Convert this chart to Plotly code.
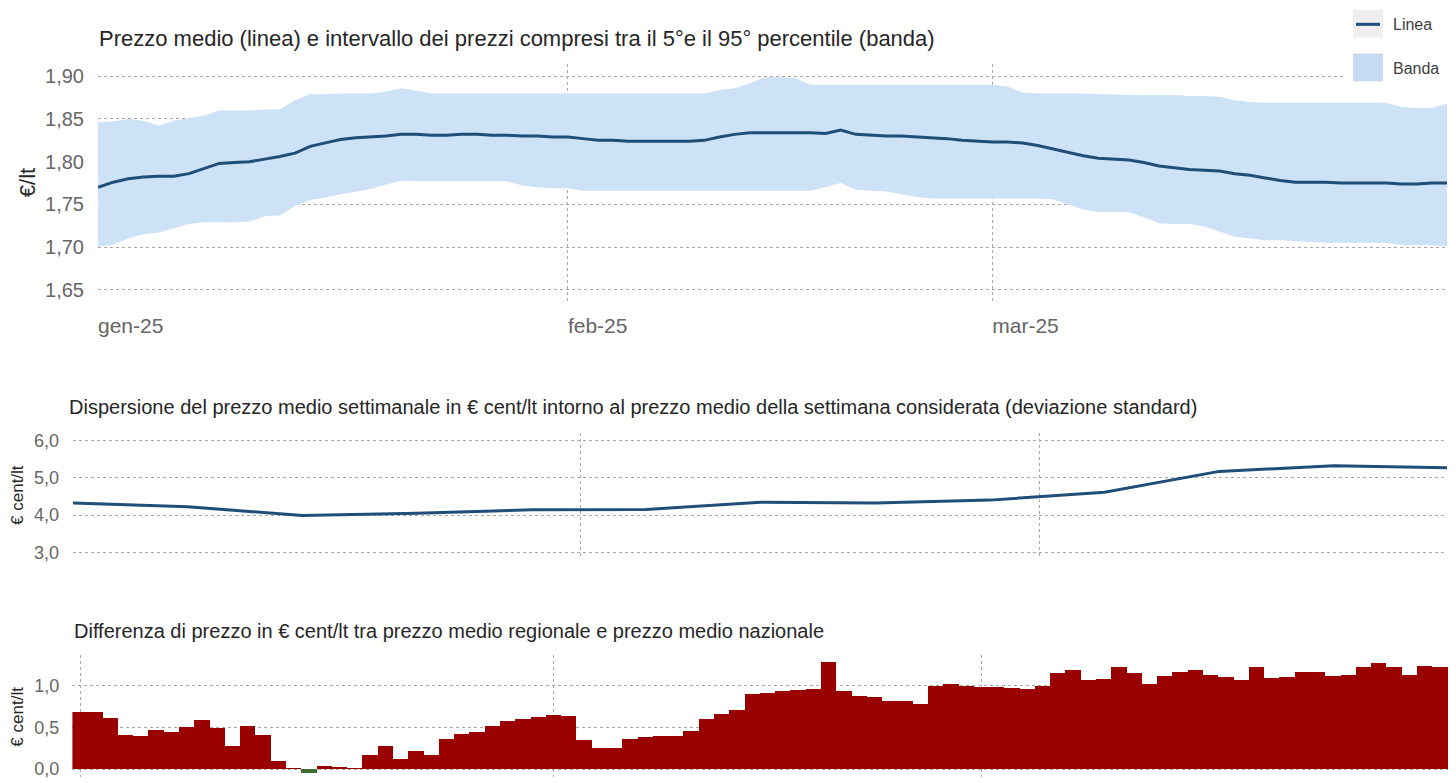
import pandas as pd
import plotly.graph_objects as go

W, H = 1456, 783
OFF = 8  # default page margin of the html body

# ---------------- data ----------------
days = pd.date_range("2025-01-01", "2025-03-31", freq="D")

mean_price = [1.770, 1.776, 1.780, 1.782, 1.783, 1.783, 1.786, 1.792, 1.798, 1.799,
              1.800, 1.803, 1.806, 1.810, 1.818, 1.822, 1.826, 1.828, 1.829, 1.830,
              1.832, 1.832, 1.831, 1.831, 1.832, 1.832, 1.831, 1.831, 1.830, 1.830,
              1.829, 1.829, 1.827, 1.825, 1.825, 1.824, 1.824, 1.824, 1.824, 1.824,
              1.825, 1.829, 1.832, 1.834, 1.834, 1.834, 1.834, 1.834, 1.833, 1.837,
              1.832, 1.831, 1.830, 1.830, 1.829, 1.828, 1.827, 1.825, 1.824, 1.823,
              1.823, 1.822, 1.819, 1.815, 1.811, 1.807, 1.804, 1.803, 1.802, 1.799,
              1.795, 1.793, 1.791, 1.790, 1.789, 1.786, 1.784, 1.781, 1.778, 1.776,
              1.776, 1.776, 1.775, 1.775, 1.775, 1.775, 1.774, 1.774, 1.775, 1.775]

p95 = [1.846, 1.847, 1.850, 1.848, 1.842, 1.848, 1.851, 1.854, 1.860, 1.860,
       1.860, 1.861, 1.861, 1.872, 1.879, 1.879, 1.880, 1.880, 1.880, 1.882,
       1.886, 1.883, 1.880, 1.880, 1.880, 1.880, 1.880, 1.880, 1.880, 1.880,
       1.880, 1.880, 1.880, 1.880, 1.880, 1.880, 1.880, 1.880, 1.880, 1.880,
       1.880, 1.884, 1.886, 1.892, 1.899, 1.899, 1.898, 1.890, 1.890, 1.890,
       1.890, 1.890, 1.890, 1.890, 1.890, 1.890, 1.890, 1.890, 1.890, 1.890,
       1.888, 1.881, 1.880, 1.880, 1.880, 1.880, 1.879, 1.879, 1.878, 1.878,
       1.878, 1.878, 1.877, 1.877, 1.876, 1.872, 1.870, 1.869, 1.869, 1.869,
       1.869, 1.869, 1.869, 1.869, 1.869, 1.869, 1.864, 1.863, 1.863, 1.868]

p5 = [1.700, 1.703, 1.710, 1.715, 1.717, 1.722, 1.727, 1.729, 1.729, 1.729,
      1.730, 1.736, 1.737, 1.748, 1.755, 1.758, 1.762, 1.765, 1.768, 1.773,
      1.778, 1.777, 1.777, 1.777, 1.777, 1.777, 1.777, 1.777, 1.772, 1.770,
      1.769, 1.769, 1.766, 1.766, 1.766, 1.766, 1.766, 1.766, 1.766, 1.766,
      1.766, 1.766, 1.766, 1.766, 1.766, 1.766, 1.766, 1.766, 1.770, 1.775,
      1.767, 1.766, 1.765, 1.762, 1.759, 1.757, 1.757, 1.757, 1.757, 1.757,
      1.757, 1.757, 1.757, 1.756, 1.750, 1.744, 1.741, 1.741, 1.741, 1.735,
      1.728, 1.727, 1.727, 1.724, 1.718, 1.712, 1.710, 1.708, 1.708, 1.707,
      1.706, 1.705, 1.705, 1.705, 1.705, 1.705, 1.702, 1.702, 1.702, 1.701]

weeks = pd.date_range("2025-01-01", periods=13, freq="7D")
std_dev = [4.32, 4.22, 3.99, 4.05, 4.14, 4.15, 4.34, 4.32, 4.40, 4.61, 5.17, 5.32, 5.27]

diff_reg_naz = [0.68, 0.68, 0.61, 0.41, 0.39, 0.47, 0.44, 0.50, 0.59, 0.49,
                0.28, 0.52, 0.41, 0.09, 0.005, -0.05, 0.04, 0.012, 0.004, 0.165,
                0.28, 0.12, 0.22, 0.165, 0.36, 0.42, 0.44, 0.51, 0.57, 0.60,
                0.62, 0.645, 0.63, 0.35, 0.245, 0.256, 0.355, 0.38, 0.39, 0.40,
                0.45, 0.60, 0.66, 0.705, 0.90, 0.917, 0.937, 0.95, 0.96, 1.287,
                0.94, 0.874, 0.862, 0.82, 0.81, 0.776, 1.00, 1.024, 1.00, 0.98,
                0.98, 0.97, 0.957, 0.996, 1.15, 1.185, 1.07, 1.08, 1.23, 1.15,
                1.02, 1.12, 1.17, 1.19, 1.13, 1.11, 1.07, 1.22, 1.09, 1.10,
                1.16, 1.16, 1.12, 1.13, 1.22, 1.275, 1.22, 1.13, 1.236, 1.23]

month_ticks = ["2025-01-01", "2025-02-01", "2025-03-01"]
month_labels = ["gen-25", "feb-25", "mar-25"]

title_top = "Prezzo medio (linea) e intervallo dei prezzi compresi tra il 5°e il 95° percentile (banda)"
title_mid = ("Dispersione del prezzo medio settimanale in € cent/lt intorno al prezzo medio "
             "della settimana considerata (deviazione standard)")
title_bot = "Differenza di prezzo in € cent/lt tra prezzo medio regionale e prezzo medio nazionale"

# ---------------- styles ----------------
FONT = "Liberation Sans, Arial, Helvetica, sans-serif"
LINE_C = "#1f4e79"
BAND_C = "#cde1f7"
POS_C = "#9b0000"
NEG_C = "#3f6e34"
GRID_C = "#a8a8a8"
TICK_C = "#666666"
TITLE_C = "#262626"

FW, FH = W - OFF, H - OFF


def fx(x):
    return (x - OFF) / FW


def fy(y):
    return 1 - (y - OFF) / FH


fig = go.Figure()

# top chart: band + line
fig.add_trace(go.Scatter(x=days, y=p5, mode="lines", line=dict(width=0, color=BAND_C),
                         showlegend=False, hoverinfo="skip", xaxis="x", yaxis="y"))
fig.add_trace(go.Scatter(x=days, y=p95, mode="lines", line=dict(width=0, color=BAND_C),
                         fill="tonexty", fillcolor=BAND_C, name="Banda",
                         showlegend=False, xaxis="x", yaxis="y"))
fig.add_trace(go.Scatter(x=days, y=mean_price, mode="lines", line=dict(width=3, color=LINE_C),
                         name="Linea", showlegend=False, xaxis="x", yaxis="y"))

# middle chart
fig.add_trace(go.Scatter(x=weeks, y=std_dev, mode="lines", line=dict(width=3, color=LINE_C),
                         showlegend=False, xaxis="x2", yaxis="y2"))

# bottom chart
bar_colors = [POS_C if v >= 0 else NEG_C for v in diff_reg_naz]
fig.add_trace(go.Bar(x=days, y=diff_reg_naz, marker=dict(color=bar_colors, line=dict(width=0)),
                     showlegend=False, xaxis="x3", yaxis="y3"))

grid = dict(showgrid=True, gridcolor=GRID_C, griddash="dot", gridwidth=1,
            zeroline=False, showline=False)

fig.update_layout(
    width=FW, height=FH,
    margin=dict(l=0, r=0, t=0, b=0),
    paper_bgcolor="white", plot_bgcolor="white",
    separators=",.",
    bargap=0,
    font=dict(family=FONT, color=TICK_C),
    xaxis=dict(domain=[fx(98), fx(1447)], range=["2025-01-01", "2025-03-31"],
               tickvals=month_ticks, ticktext=month_labels,
               ticklabelposition="outside right", ticks="",
               tickfont=dict(size=21, color=TICK_C), ticklabelstandoff=10,
               anchor="y", **grid),
    yaxis=dict(domain=[fy(302), fy(63)], range=[1.6369, 1.9139],
               tick0=1.65, dtick=0.05, tickformat=".2f",
               tickfont=dict(size=20, color=TICK_C), ticklabelstandoff=13,
               anchor="x", **grid),
    xaxis2=dict(domain=[fx(73), fx(1447)], range=["2025-01-01", "2025-03-25 22:00"],
                tickvals=month_ticks, showticklabels=False, ticks="",
                anchor="y2", **grid),
    yaxis2=dict(domain=[fy(560), fy(435)], range=[2.894, 6.21],
                tickvals=[3, 4, 5, 6], tickformat=".1f",
                tickfont=dict(size=18, color=TICK_C), ticklabelstandoff=13,
                anchor="x2", **grid),
    xaxis3=dict(domain=[fx(72.4), fx(1448)], range=["2024-12-31 12:00", "2025-03-31 12:00"],
                tickvals=month_ticks, showticklabels=False, ticks="",
                anchor="y3", **grid),
    yaxis3=dict(domain=[0, fy(660)], range=[-0.095, 1.369],
                tickvals=[0, 0.5, 1.0], tickformat=".1f",
                tickfont=dict(size=18, color=TICK_C), ticklabelstandoff=12,
                anchor="x3", **grid),
)

annotations = [
    dict(text=title_top, x=fx(97), y=fy(37), xanchor="left", yanchor="middle",
         font=dict(size=22, color=TITLE_C)),
    dict(text=title_mid, x=fx(67), y=fy(409), xanchor="left", yanchor="middle",
         font=dict(size=20, color=TITLE_C)),
    dict(text=title_bot, x=fx(72), y=fy(635), xanchor="left", yanchor="middle",
         font=dict(size=20, color=TITLE_C)),
    dict(text="€/lt", x=fx(27), y=fy(183), xanchor="center", yanchor="middle",
         textangle=-90, font=dict(size=22, color=TITLE_C)),
    dict(text="€ cent/lt", x=fx(18), y=fy(498), xanchor="center", yanchor="middle",
         textangle=-90, font=dict(size=17, color=TITLE_C)),
    dict(text="€ cent/lt", x=fx(18), y=fy(722), xanchor="center", yanchor="middle",
         textangle=-90, font=dict(size=17, color=TITLE_C)),
    dict(text="Linea", x=fx(1391), y=fy(23), xanchor="left", yanchor="middle",
         font=dict(size=16, color="#404040")),
    dict(text="Banda", x=fx(1391), y=fy(67), xanchor="left", yanchor="middle",
         font=dict(size=16, color="#404040")),
]
for a in annotations:
    a.update(xref="paper", yref="paper", showarrow=False)
fig.update_layout(annotations=annotations)

# legend box (decoration)
shapes = [
    dict(type="rect", x0=fx(1345), x1=fx(1456), y0=fy(86), y1=fy(OFF),
         fillcolor="white", line=dict(width=0), layer="above"),
    dict(type="rect", x0=fx(1353), x1=fx(1383), y0=fy(36), y1=fy(OFF),
         fillcolor="#efefef", line=dict(width=0), layer="above"),
    dict(type="line", x0=fx(1356), x1=fx(1380), y0=fy(22.5), y1=fy(22.5),
         line=dict(width=3, color=LINE_C), layer="above"),
    dict(type="rect", x0=fx(1353), x1=fx(1383), y0=fy(80), y1=fy(52),
         fillcolor="#c6daf2", line=dict(width=0), layer="above"),
]
for s in shapes:
    s.update(xref="paper", yref="paper")
fig.update_layout(shapes=shapes)

fig.write_html("out.html")
